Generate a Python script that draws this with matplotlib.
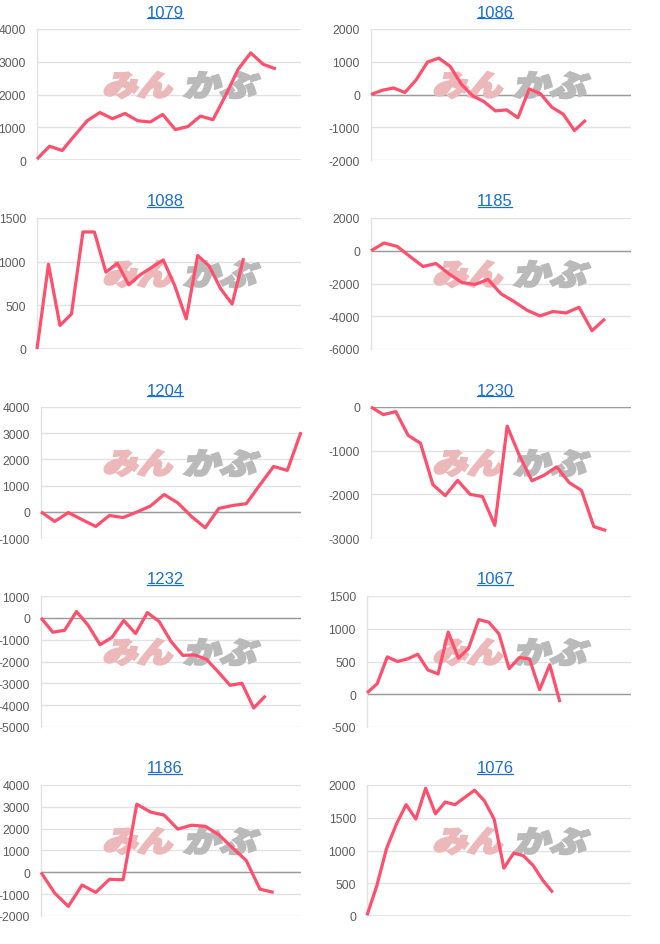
import matplotlib
matplotlib.use("Agg")
import matplotlib.pyplot as plt
from matplotlib.lines import Line2D
from matplotlib.patches import PathPatch
from matplotlib.textpath import TextPath
from matplotlib.font_manager import FontProperties
from matplotlib.transforms import Affine2D, IdentityTransform
import numpy as np

# --- data ---
titles = ['1079', '1086', '1088', '1185', '1204', '1230', '1232', '1067', '1186', '1076']

v1079 = [30, 420, 290, 750, 1200, 1450, 1260, 1420, 1200, 1160, 1390, 930, 1020, 1340,
         1230, 1970, 2770, 3270, 2920, 2780]
v1086 = [0, 130, 200, 60, 450, 990, 1110, 860, 310, -40, -220, -500, -470, -710, 170,
         20, -390, -600, -1100, -780]
v1088 = [0, 970, 270, 400, 1340, 1340, 880, 980, 735, 850, 935, 1020, 725, 345, 1070,
         950, 690, 515, 1040]
v1185 = [0, 470, 270, -350, -960, -780, -1410, -1940, -2060, -1750, -2630, -3100, -3630,
         -3980, -3710, -3800, -3450, -4880, -4160]
v1204 = [0, -370, -30, -300, -560, -140, -220, -10, 220, 660, 340, -180, -610, 130, 240,
         310, 1030, 1730, 1580, 3040]
v1230 = [0, -175, -105, -650, -830, -1780, -2030, -1680, -2000, -2050, -2710, -440, -1120,
         -1690, -1560, -1370, -1730, -1910, -2740, -2830]
v1232 = [0, -660, -570, 290, -350, -1230, -900, -120, -720, 240, -170, -1080, -1720, -1700,
         -1900, -2480, -3090, -3000, -4130, -3570]
v1067 = [20, 160, 570, 500, 540, 610, 370, 310, 950, 550, 700, 1140, 1100, 920, 390, 560,
         540, 70, 450, -120]
v1186 = [0, -950, -1560, -580, -920, -320, -340, 3120, 2760, 2620, 1980, 2160, 2110, 1720,
         1120, 540, -770, -920]
v1076 = [10, 460, 1030, 1400, 1700, 1480, 1950, 1560, 1740, 1700, 1810, 1920, 1760, 1480,
         730, 960, 920, 770, 540, 360]

series = [v1079, v1086, v1088, v1185, v1204, v1230, v1232, v1067, v1186, v1076]
x_spans = [21, 23, 23, 20, 19, 21, 22, 26, 19, 27]
y_axes = [(0, 4000, 1000), (-2000, 2000, 1000), (0, 1500, 500), (-6000, 2000, 2000),
          (-1000, 4000, 1000), (-3000, 0, 1000), (-5000, 1000, 1000), (-500, 1500, 500),
          (-2000, 4000, 1000), (0, 2000, 500)]

W, H = 660, 945
row_y = [0, 189, 378, 567, 756]
line_color = '#ff4f6d'
title_color = '#1a6fd2'
grid_color = '#e2e2e2'
base_color = '#9c9c9c'
tick_color = '#5e5e5e'

plt.rcParams['font.family'] = ['Liberation Sans', 'DejaVu Sans']
fig = plt.figure(figsize=(W / 100, H / 100), dpi=100)
fig.patch.set_facecolor('white')

jp = FontProperties(family='Noto Sans CJK JP', weight='black')


def stamp(ax, text, color, x0, y0, w, h, shear=14):
    # faint logo: a stretched, slanted, thickened text path in pixel space
    tp = TextPath((0, 0), text, size=10, prop=jp)
    ext = tp.get_extents()
    s = np.tan(np.radians(shear))
    tr = (Affine2D().translate(-ext.x0, -ext.y0)
          .scale((w - s * h - 2) / ext.width, (h - 2) / ext.height)
          .skew_deg(shear, 0)
          .translate(x0 + 1, y0 + 1))
    p = PathPatch(tp, facecolor=color, edgecolor=color, lw=1.8,
                  joinstyle='miter', transform=tr, zorder=1.5)
    ax.add_artist(p)


title_texts = []
for i, name in enumerate(titles):
    col, row = i % 2, i // 2
    cx = col * 330
    ry = row_y[row]
    ymin, ymax, step = y_axes[i]
    ticks = np.arange(ymin, ymax + step, step)
    wide = max(len(str(t)) for t in ticks) >= 5
    left = cx + (41 if wide else 37)
    right = cx + 301
    top, bottom = ry + 30, ry + 161
    ax = fig.add_axes([left / W, 1 - bottom / H, (right - left) / W, (bottom - top) / H])

    vals = series[i]
    ax.plot(range(len(vals)), vals, color=line_color, lw=2.3, zorder=3,
            solid_joinstyle='round', solid_capstyle='butt', clip_on=False)

    ax.set_xlim(0, x_spans[i])
    ax.set_ylim(ymin, ymax)
    ax.set_yticks(ticks)
    ax.set_yticklabels([str(t) for t in ticks])
    ax.set_xticks([])
    ax.tick_params(axis='y', length=0, pad=8, labelsize=8.8, labelcolor=tick_color)
    ax.grid(axis='y', color=grid_color, lw=1)
    ax.set_axisbelow(True)
    for sp in ['top', 'right', 'bottom']:
        ax.spines[sp].set_visible(False)
    ax.spines['left'].set_color(grid_color)
    ax.spines['left'].set_linewidth(1)
    ax.axhline(0, color=base_color, lw=1, zorder=1.2)

    # watermark
    stamp(ax, 'みん', '#ecb8ba', cx + 102, H - (ry + 100), 76, 28)
    stamp(ax, 'かぶ', '#bababa', cx + 183, H - (ry + 100), 80, 28)

    t = fig.text((cx + 165) / W, 1 - (ry + 17.5) / H, name, ha='center', va='baseline',
                 fontsize=12, color=title_color)
    title_texts.append((t, ry))

fig.canvas.draw()
r = fig.canvas.get_renderer()
for t, ry in title_texts:
    bb = t.get_window_extent(r)
    yl = H - (ry + 19)
    fig.add_artist(Line2D([bb.x0 + 0.5, bb.x1 - 1], [yl, yl], color=title_color, lw=0.9,
                          transform=IdentityTransform()))

fig.savefig('out.png', dpi=100, facecolor='white')
